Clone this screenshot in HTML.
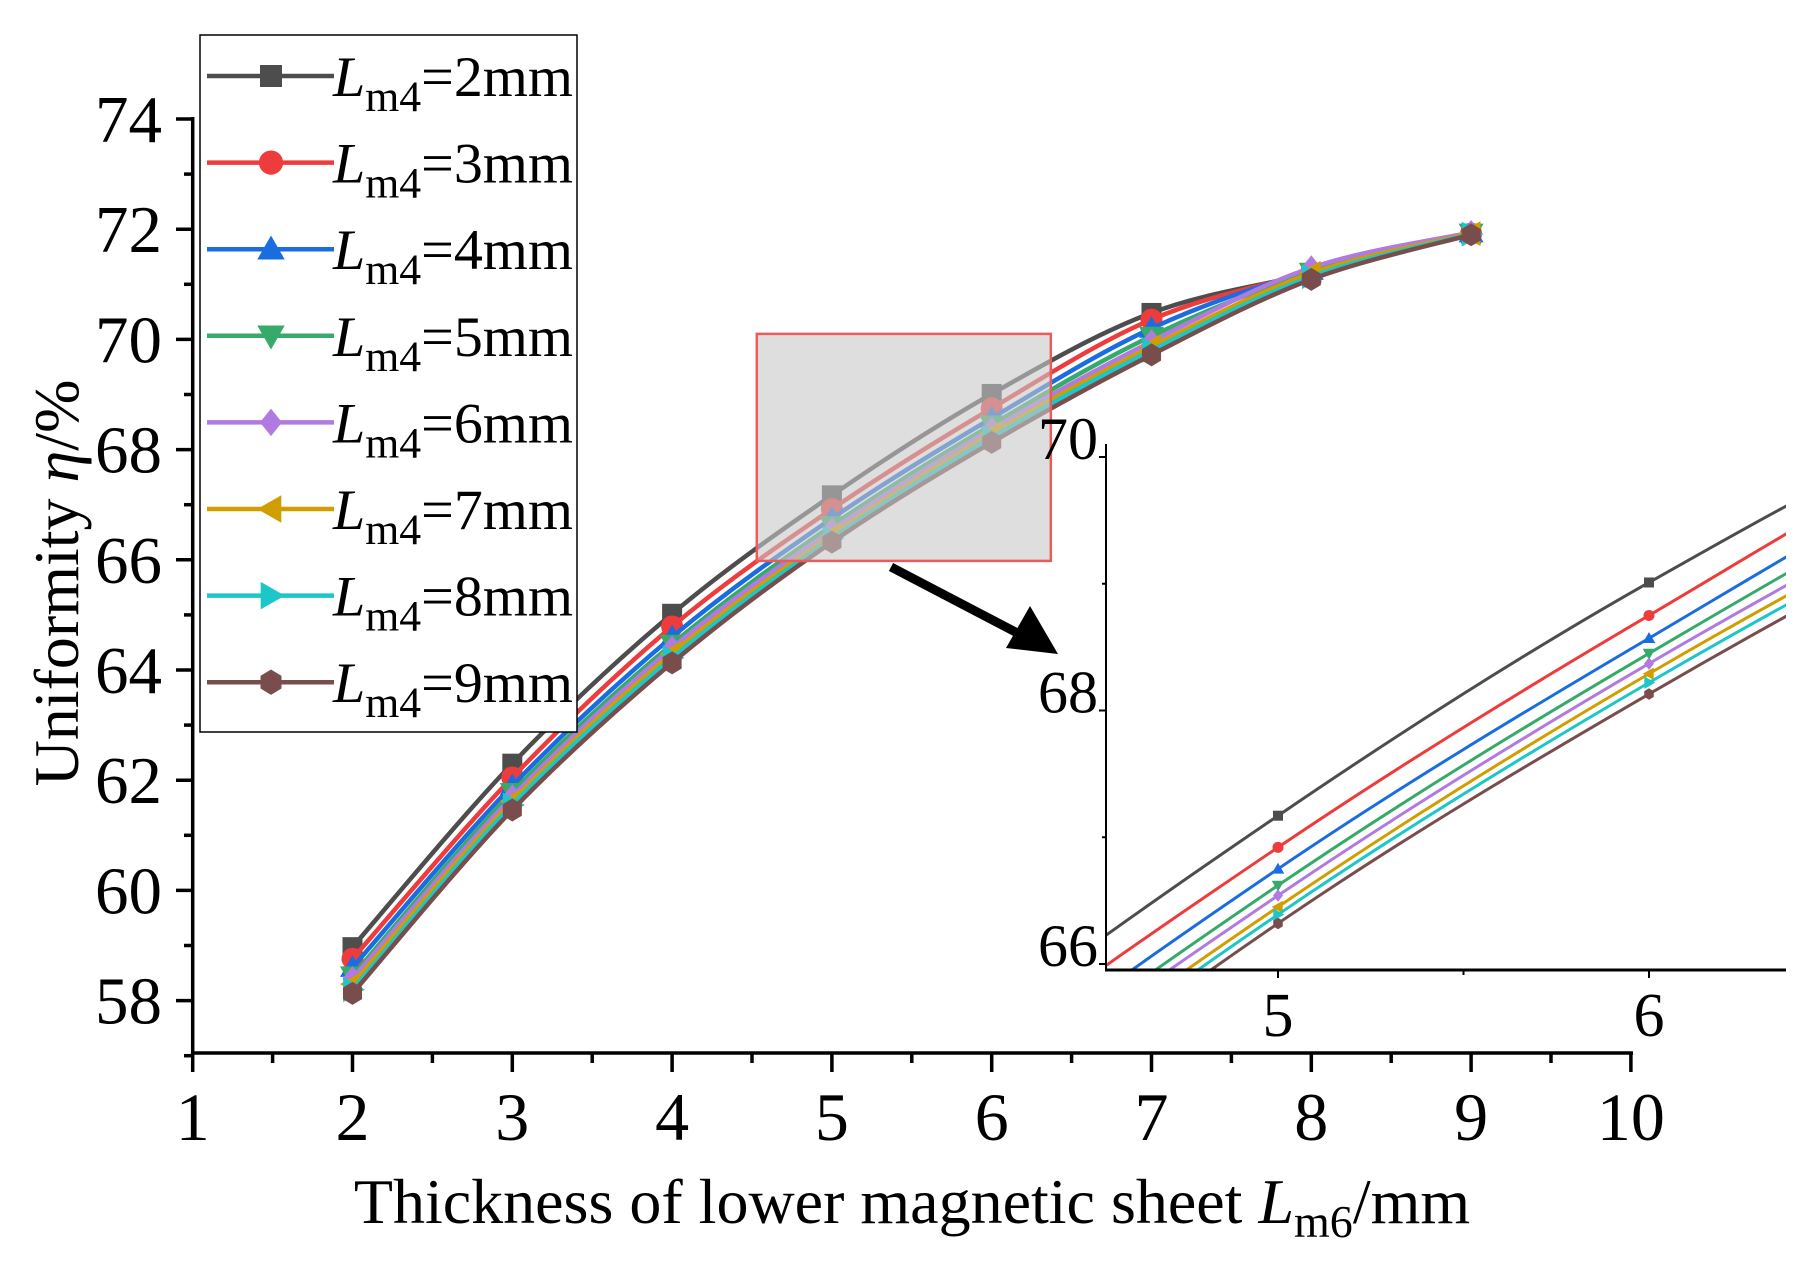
<!DOCTYPE html>
<html><head><meta charset="utf-8"><style>
html,body{margin:0;padding:0;background:#fff;overflow:hidden;width:1811px;height:1266px;}
svg{display:block;font-family:"Liberation Serif","Times New Roman",serif;}
</style></head><body>
<svg id="chart" width="1811" height="1266" viewBox="0 0 1811 1266" xmlns="http://www.w3.org/2000/svg">
<rect width="1811" height="1266" fill="#fff"/>
<g id="main"></g>
<g id="zoombox"></g>
<g id="inset"></g>
<g id="legend"></g>
</svg>
<script>
const xs = [2,3,4,5,6,7,8,9];
const labels = ["2mm","3mm","4mm","5mm","6mm","7mm","8mm","9mm"];
const colors = ["#4d4d4d","#ee3c3c","#1a6de0","#36aa68","#b07ae0","#d09e00","#1cc6c9","#7a4d4d"];
const markers = ["square","circle","triangle","tridown","diamond","triLeft","triRight","hexagon"];
const s2 = [58.97,62.30,65.02,67.17,69.01,70.48,71.20,71.92];
const s3 = [58.76,62.05,64.79,66.92,68.75,70.36,71.22,71.92];
const s4 = [58.60,61.90,64.60,66.75,68.57,70.20,71.25,71.93];
const s5 = [58.45,61.78,64.47,66.62,68.45,70.06,71.22,71.93];
const s6 = [58.40,61.70,64.40,66.54,68.37,69.96,71.30,71.94];
const s7 = [58.30,61.62,64.30,66.45,68.29,69.87,71.20,71.92];
const s8 = [58.20,61.55,64.22,66.39,68.22,69.80,71.14,71.91];
const s9 = [58.13,61.46,64.13,66.32,68.13,69.72,71.09,71.90];
const series = [s2,s3,s4,s5,s6,s7,s8,s9];
const xTicks = [1,2,3,4,5,6,7,8,9,10];
const yTicks = [58,60,62,64,66,68,70,72,74];
const insetXTicks = [5,6];
const insetYTicks = [66,68,70];

const NS="http://www.w3.org/2000/svg";
function mk(tag, attrs, parent){const e=document.createElementNS(NS,tag);for(const k in attrs)e.setAttribute(k,attrs[k]);parent.appendChild(e);return e;}

const X = v => 192.7 + (v-1)*159.8;
const Y = v => 119 + (74-v)*55.1;
const IX = v => 1278 + (v-5)*371;
const IY = v => 964 - (v-66)*126.75;

function splinePath(px,py){
  let d=`M${px[0]},${py[0]}`;
  for(let i=0;i<px.length-1;i++){
    const x0=px[Math.max(i-1,0)],y0=py[Math.max(i-1,0)];
    const x1=px[i],y1=py[i],x2=px[i+1],y2=py[i+1];
    const x3=px[Math.min(i+2,px.length-1)],y3=py[Math.min(i+2,px.length-1)];
    const c1x=x1+(x2-x0)/6,c1y=y1+(y2-y0)/6,c2x=x2-(x3-x1)/6,c2y=y2-(y3-y1)/6;
    d+=` C${c1x},${c1y} ${c2x},${c2y} ${x2},${y2}`;
  }
  return d;
}
function marker(type,cx,cy,r,color,parent){
  let e;
  if(type==="square") e=mk("rect",{x:cx-r,y:cy-r,width:2*r,height:2*r,fill:color},parent);
  else if(type==="circle") e=mk("circle",{cx:cx,cy:cy,r:r*1.1,fill:color},parent);
  else {
    let pts;
    const t=r*1.25;
    if(type==="triangle") pts=[[cx,cy-t],[cx+t,cy+t*0.75],[cx-t,cy+t*0.75]];
    else if(type==="tridown") pts=[[cx,cy+t],[cx+t,cy-t*0.75],[cx-t,cy-t*0.75]];
    else if(type==="diamond") pts=[[cx,cy-t],[cx+r,cy],[cx,cy+t],[cx-r,cy]];
    else if(type==="triLeft") pts=[[cx-t,cy],[cx+t*0.75,cy-t],[cx+t*0.75,cy+t]];
    else if(type==="triRight") pts=[[cx+t,cy],[cx-t*0.75,cy-t],[cx-t*0.75,cy+t]];
    else { pts=[]; for(let k=0;k<6;k++){const a=Math.PI/2+k*Math.PI/3;pts.push([cx+r*1.1*Math.cos(a),cy+r*1.15*Math.sin(a)]);} }
    e=mk("polygon",{points:pts.map(p=>p.join(",")).join(" "),fill:color},parent);
  }
  return e;
}

const main=document.getElementById("main");
const yax=mk("line",{x1:192.7,y1:117,x2:192.7,y2:1054,stroke:"#000","stroke-width":3.5},main);


const xax=mk("line",{x1:191,y1:1053,x2:1633,y2:1053,stroke:"#000","stroke-width":3.5},main);


yTicks.forEach(v=>{
  mk("line",{x1:176,y1:Y(v),x2:193,y2:Y(v),stroke:"#000","stroke-width":3.5},main);
  if(v<74) mk("line",{x1:184,y1:Y(v+1),x2:193,y2:Y(v+1),stroke:"#000","stroke-width":3.5},main);
  const t=mk("text",{x:162,y:Y(v)+23,"text-anchor":"end","font-size":67},main);t.textContent=v;
  
  
});
mk("line",{x1:184,y1:Y(57),x2:193,y2:Y(57),stroke:"#000","stroke-width":3.5},main);
xTicks.forEach(v=>{
  mk("line",{x1:X(v),y1:1053,x2:X(v),y2:1072,stroke:"#000","stroke-width":3.5},main);
  if(v<10) mk("line",{x1:X(v+0.5),y1:1053,x2:X(v+0.5),y2:1063,stroke:"#000","stroke-width":3.5},main);
  const t=mk("text",{x:X(v),y:1140,"text-anchor":"middle","font-size":68},main);t.textContent=v;
  
  
});
const xt=mk("text",{x:912,y:1223,"text-anchor":"middle","font-size":64},main);
xt.innerHTML='Thickness of lower magnetic sheet <tspan font-style="italic">L</tspan><tspan font-size="46" dy="14">m6</tspan><tspan dy="-14">/mm</tspan>';


const yt=mk("text",{x:0,y:0,"text-anchor":"middle","font-size":64,transform:"translate(78,583) rotate(-90)"},main);
yt.innerHTML='Uniformity <tspan font-style="italic">η</tspan>/%';



series.forEach((s,i)=>{
  const g=mk("g",{},main);
  
  
  mk("path",{d:splinePath(xs.map(X),s.map(Y)),fill:"none",stroke:colors[i],"stroke-width":4.5},g);
  xs.forEach((x,j)=>{
    const m=marker(markers[i],X(x),Y(s[j]),10,colors[i],g);
    
    
  });
});

const zb=document.getElementById("zoombox");
const zr=mk("rect",{x:X(4.53),y:Y(70.1),width:X(6.37)-X(4.53),height:Y(65.98)-Y(70.1),fill:"#c8c8c8","fill-opacity":0.6,stroke:"#ee5a5a","stroke-width":2.5},zb);


const ar=mk("g",{},zb);


mk("line",{x1:891,y1:567,x2:1025,y2:637,stroke:"#000","stroke-width":9},ar);
mk("polygon",{points:"1058,654 1006,648 1030,606",fill:"#000"},ar);

const ins=document.getElementById("inset");


mk("rect",{x:1106,y:444,width:680,height:526,fill:"#fff"},ins);
mk("clipPath",{id:"ic"},ins).appendChild((()=>{const r=document.createElementNS(NS,"rect");r.setAttribute("x",1106);r.setAttribute("y",444);r.setAttribute("width",680);r.setAttribute("height",526);return r;})());
const ig=mk("g",{"clip-path":"url(#ic)"},ins);
series.forEach((s,i)=>{
  const g=mk("g",{},ig);
  
  
  mk("path",{d:splinePath(xs.map(IX),s.map(IY)),fill:"none",stroke:colors[i],"stroke-width":3},g);
  xs.forEach((x,j)=>{marker(markers[i],IX(x),IY(s[j]),5,colors[i],g);});
});
mk("line",{x1:1106,y1:444,x2:1106,y2:971,stroke:"#000","stroke-width":2},ins);
mk("line",{x1:1105,y1:970,x2:1786,y2:970,stroke:"#000","stroke-width":3},ins);
insetYTicks.forEach(v=>{
  mk("line",{x1:1099,y1:IY(v),x2:1106,y2:IY(v),stroke:"#000","stroke-width":2},ins);
  if(v<70) mk("line",{x1:1102,y1:IY(v+1),x2:1106,y2:IY(v+1),stroke:"#000","stroke-width":2},ins);
  const t=mk("text",{x:1098,y:IY(v)+2,"text-anchor":"end","font-size":60},ins);t.textContent=v;
  
  
});
insetXTicks.forEach(v=>{
  mk("line",{x1:IX(v),y1:970,x2:IX(v),y2:978,stroke:"#000","stroke-width":2},ins);
  const t=mk("text",{x:IX(v),y:1036,"text-anchor":"middle","font-size":62},ins);t.textContent=v;
  
  
});
mk("line",{x1:IX(5.5),y1:970,x2:IX(5.5),y2:975,stroke:"#000","stroke-width":2},ins);

const lg=document.getElementById("legend");


mk("rect",{x:200,y:35,width:377,height:697,fill:"#fff",stroke:"#000","stroke-width":1.5},lg);
labels.forEach((l,i)=>{
  const cy=76+i*86.6;
  const g=mk("g",{},lg);
  
  
  mk("line",{x1:207,y1:cy,x2:334,y2:cy,stroke:colors[i],"stroke-width":4.5},g);
  marker(markers[i],271,cy,11,colors[i],g);
  const t=mk("text",{x:333,y:cy+20,"font-size":57,textLength:240,lengthAdjust:"spacingAndGlyphs"},g);
  t.innerHTML='<tspan font-style="italic">L</tspan><tspan font-size="43" dy="15">m4</tspan><tspan dy="-15">='+l+'</tspan>';
});
</script>
</body></html>
